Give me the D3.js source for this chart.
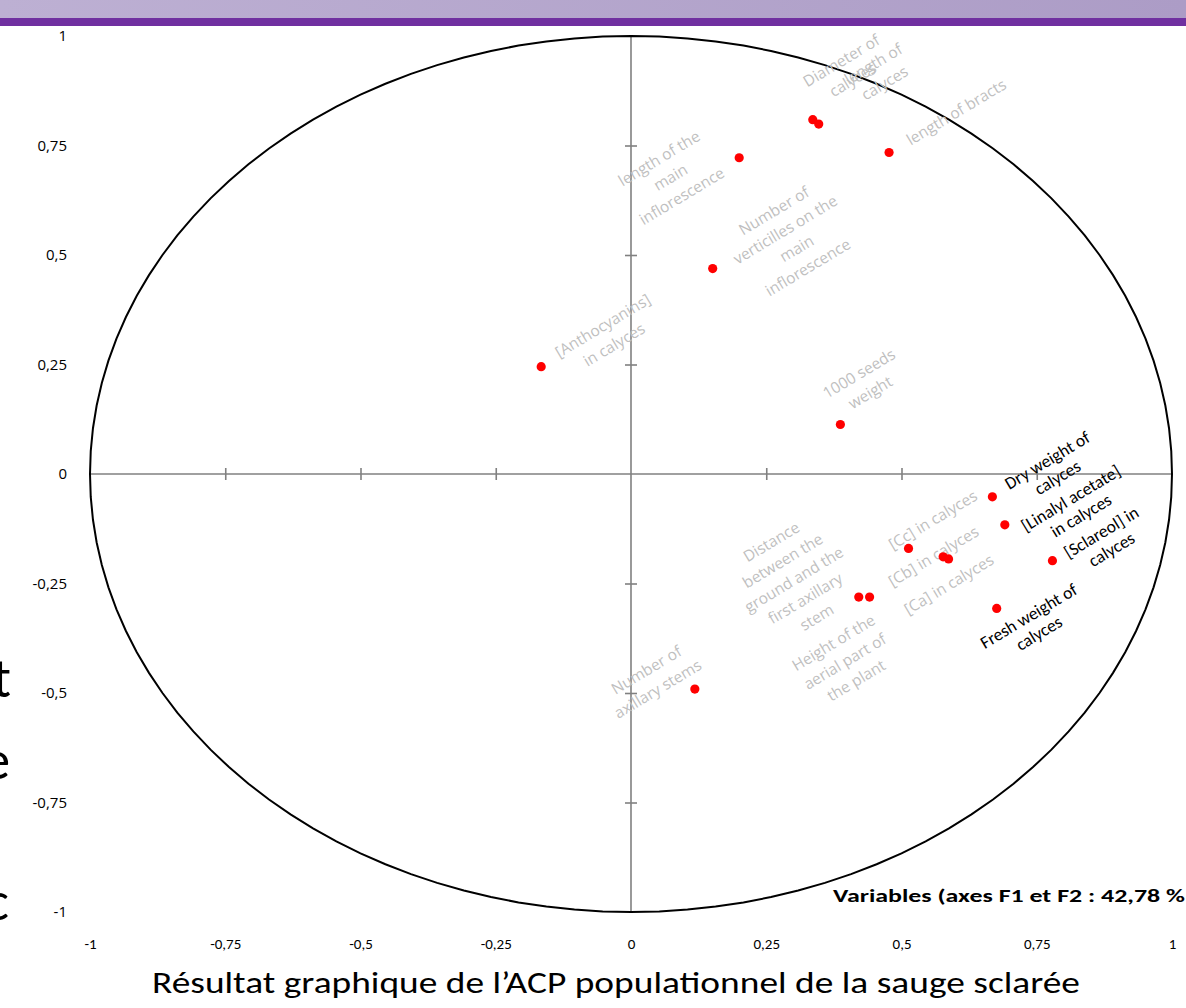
<!DOCTYPE html>
<html>
<head>
<meta charset="utf-8">
<script src="https://cdn.jsdelivr.net/npm/d3@7"></script>
<style>
  body { margin: 0; background: #fff; overflow: hidden; }
  svg { display: block; }
</style>
</head>
<body>
<div id="chart"></div>
<script>
// PCA variables, coordinates on F1 / F2
var variables = [
  "Diameter of\ncalyces",
  "length of\ncalyces",
  "length of bracts",
  "length of the\nmain\ninflorescence",
  "Number of\nverticilles on the\nmain\ninflorescence",
  "[Anthocyanins]\nin calyces",
  "1000 seeds\nweight",
  "Dry weight of\ncalyces",
  "[Linalyl acetate]\nin calyces",
  "[Sclareol] in\ncalyces",
  "[Cc] in calyces",
  "[Cb] in calyces",
  "[Ca] in calyces",
  "Fresh weight of\ncalyces",
  "Distance\nbetween the\nground and the\nfirst axillary\nstem",
  "Height of the\naerial part of\nthe plant",
  "Number of\naxillary stems"
]
var f1 = [0.336, 0.347, 0.477, 0.200, 0.151, -0.166, 0.387, 0.668, 0.691, 0.779, 0.513, 0.577, 0.587, 0.676, 0.421, 0.441, 0.118]
var f2 = [0.809, 0.799, 0.734, 0.722, 0.469, 0.245, 0.113, -0.052, -0.116, -0.198, -0.170, -0.189, -0.194, -0.307, -0.281, -0.281, -0.491]

// variables whose label is in black
var highlighted = ["Dry weight of\ncalyces", "[Linalyl acetate]\nin calyces", "[Sclareol] in\ncalyces", "Fresh weight of\ncalyces"]

var tickValues = [-1, -0.75, -0.5, -0.25, 0, 0.25, 0.5, 0.75, 1]

var title = "Résultat graphique de l’ACP populationnel de la sauge sclarée"
var subtitle = "Variables (axes F1 et F2 : 42,78 %"

// label placement (px, relative to the point)
var labelOffset = [
  [34, -50], [60, -51], [67, -41], [-69, 19], [78, -30], [67, -32], [24, -42],
  [60, -28], [71, -18], [54, -20], [24, -29], [-10, -1], [0, 25], [37, 16],
  [-65, -18], [-25, 64], [-43, -10]
]

var W = 1186, H = 1008

var svg = d3.select("#chart").append("svg")
  .attr("width", W)
  .attr("height", H)

// slide banner
var grad = svg.append("defs").append("linearGradient")
  .attr("id", "band")
grad.append("stop").attr("offset", "0%").attr("stop-color", "#bdb0d3")
grad.append("stop").attr("offset", "100%").attr("stop-color", "#ac9cc6")
svg.append("rect").attr("x", 0).attr("y", 0).attr("width", W).attr("height", 18).attr("fill", "url(#band)")
svg.append("rect").attr("x", 0).attr("y", 18).attr("width", W).attr("height", 8).attr("fill", "#7030a0")

// pieces of slide text cut by the picture
var slideBits = [["t", 11, 697], ["e", 10, 779], ["c", 9, 920]]
svg.append("g").selectAll("text")
  .data(slideBits)
  .join("text")
  .attr("x", d => d[1])
  .attr("y", d => d[2])
  .attr("text-anchor", "end")
  .attr("font-family", "Carlito, Calibri, 'Open Sans', sans-serif")
  .attr("font-size", 56)
  .attr("fill", "#000")
  .text(d => d[0])

var x = d3.scaleLinear().domain([-1, 1]).range([90, 1172])
var y = d3.scaleLinear().domain([-1, 1]).range([912, 36])

var loc = d3.formatLocale({ decimal: ",", thousands: " ", grouping: [3], currency: ["", ""], minus: "-" })
var fmt = loc.format("~g")

var inner = tickValues.filter(v => v !== 0 && Math.abs(v) !== 1)

// tick labels around the frame
var axL = svg.append("g")
  .attr("transform", "translate(72,0)")
  .call(d3.axisLeft(y).tickValues(tickValues).tickFormat(fmt).tickSize(0).tickPadding(5))
axL.select(".domain").remove()
axL.selectAll("text")
  .attr("font-family", "'Open Sans', sans-serif")
  .attr("font-size", 15)
  .attr("fill", "#000")

var axB = svg.append("g")
  .attr("transform", "translate(0,935)")
  .call(d3.axisBottom(x).tickValues(tickValues).tickFormat(fmt).tickSize(0).tickPadding(3))
axB.select(".domain").remove()
axB.selectAll("text")
  .attr("font-family", "Carlito, Calibri, 'Open Sans', sans-serif")
  .attr("font-size", 15)
  .attr("fill", "#000")

// axes through the origin
var axes = svg.append("g").attr("stroke", "#808080").attr("stroke-width", 1.6)
axes.append("line")
  .attr("x1", x(-1)).attr("x2", x(1))
  .attr("y1", y(0)).attr("y2", y(0))
axes.append("line")
  .attr("x1", x(0)).attr("x2", x(0))
  .attr("y1", y(1)).attr("y2", y(-1))

var tx = svg.append("g")
  .attr("transform", "translate(0," + (y(0) - 6) + ")")
  .call(d3.axisBottom(x).tickValues(inner).tickFormat("").tickSize(12).tickSizeOuter(0))
tx.select(".domain").remove()
var ty = svg.append("g")
  .attr("transform", "translate(" + (x(0) + 6) + ",0)")
  .call(d3.axisLeft(y).tickValues(inner).tickFormat("").tickSize(12).tickSizeOuter(0))
ty.select(".domain").remove()
svg.selectAll(".tick line").attr("stroke", "#808080").attr("stroke-width", 1.6)

// correlation circle
var angles = d3.range(0, 121).map(i => i / 120 * 2 * Math.PI)
var circle = d3.line()
  .x(a => x(Math.cos(a)))
  .y(a => y(Math.sin(a)))
svg.append("path")
  .attr("d", circle(angles))
  .attr("fill", "none")
  .attr("stroke", "#000")
  .attr("stroke-width", 2)

// data
var rows = variables.map((v, i) => ({ name: v, f1: f1[i], f2: f2[i], off: labelOffset[i] }))

var labels = svg.append("g").selectAll("g")
  .data(rows)
  .join("g")
  .attr("transform", d => "translate(" + (x(d.f1) + d.off[0]) + "," + (y(d.f2) + d.off[1]) + ") rotate(-31)")

labels.each(function (d) {
  var lines = d.name.split("\n")
  var dark = highlighted.indexOf(d.name) >= 0
  var lh = dark ? 20 : 22
  var t = d3.select(this).append("text")
    .attr("text-anchor", "middle")
    .attr("dominant-baseline", "central")
    .attr("font-family", dark ? "Carlito, Calibri, 'Liberation Sans', sans-serif" : "'Open Sans', sans-serif")
    .attr("font-size", dark ? 17.5 : 15.5)
    .attr("fill", dark ? "#000" : "#bfbfbf")
  lines.forEach(function (l, i) {
    t.append("tspan")
      .attr("x", 0)
      .attr("y", (i - (lines.length - 1) / 2) * lh)
      .text(l)
  })
})

svg.append("g").selectAll("circle")
  .data(rows)
  .join("circle")
  .attr("cx", d => x(d.f1))
  .attr("cy", d => y(d.f2))
  .attr("r", 4.6)
  .attr("fill", "#ff0000")

svg.append("text")
  .attr("x", 833)
  .attr("y", 902)
  .attr("font-family", "Carlito, Calibri, 'Open Sans', sans-serif")
  .attr("font-weight", "bold")
  .attr("font-size", 18)
  .attr("textLength", 352)
  .attr("lengthAdjust", "spacingAndGlyphs")
  .text(subtitle)

svg.append("text")
  .attr("x", 152)
  .attr("y", 993)
  .attr("font-family", "Carlito, Calibri, 'Open Sans', sans-serif")
  .attr("font-size", 31)
  .attr("textLength", 928)
  .attr("lengthAdjust", "spacingAndGlyphs")
  .text(title)
</script>
</body>
</html>
